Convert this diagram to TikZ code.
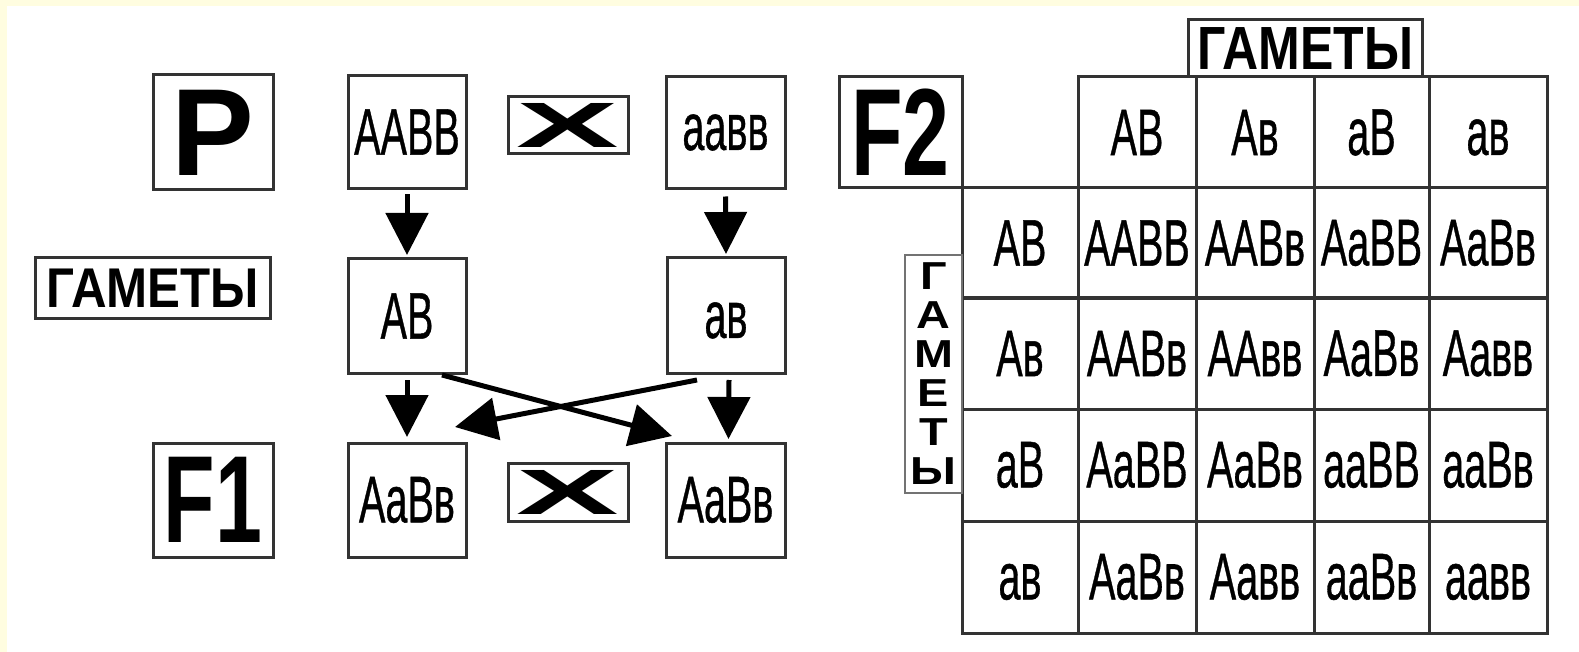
\documentclass[tikz,border=0pt]{standalone}
\usepackage{fontspec}
\setmainfont{Liberation Sans}
\newfontfamily\genfont{Liberation Sans}[FakeBold=0.8]
\usetikzlibrary{arrows.meta,calc}
\definecolor{bgyellow}{HTML}{FFFDE0}
\definecolor{boxline}{HTML}{333333}
\newcommand{\gen}[1]{\scalebox{0.6}[1]{\genfont\fontsize{66}{66}\selectfont #1\vphantom{A}}}
\newcommand{\genl}[1]{\scalebox{0.6}[1]{\genfont\fontsize{66}{66}\selectfont #1}}
\newcommand{\biglbl}[2]{\scalebox{#1}[1]{\fontsize{124}{124}\selectfont\bfseries #2}}
\newcommand{\vl}[1]{\scalebox{1.2}[1]{#1}}
\newcommand{\crossx}{\scalebox{2.4}[1]{\fontsize{64}{64}\selectfont\bfseries X}}
\newcommand{\cellnode}[6]{%
  \node[cellbox, minimum width={(#4-#2)*1pt}, minimum height={(#5-#3)*1pt}] (#1) at ({(#2+#4)/2},{(#3+#5)/2}) {\gen{#6}};}
\begin{document}
\begin{tikzpicture}[x=1pt,y=-1pt,
  box/.style={draw=boxline, line width=3pt, inner sep=0pt, outer sep=0pt},
  cellbox/.style={draw=boxline, line width=3pt, inner sep=0pt, outer sep=0pt},
  arr/.style={line width=5pt, -{Triangle[width=42pt,length=42pt]}}]
\useasboundingbox (0,0) rectangle (1579,652);
\fill[white] (0,0) rectangle (1579,652);
\fill[bgyellow] (0,0) rectangle (1579,6);
\fill[bgyellow] (0,0) rectangle (7,652);

% left scheme
\node[box, minimum width=120pt, minimum height=115pt] (p) at (213,132.5) {\biglbl{1}{P}};
\node[box, minimum width=118pt, minimum height=113pt] (aabb) at (407,132) {\gen{AABB}};
\node[box, minimum width=120pt, minimum height=57pt] (xtop) at (568,125.5) {\crossx};
\node[box, minimum width=119pt, minimum height=112pt] (aavv) at (725.5,132.5) {\genl{aaвв}};

\node[box, minimum width=235pt, minimum height=60pt] (gamL) at (152.5,288) {\scalebox{0.88}[1]{\fontsize{56}{56}\selectfont\bfseries ГАМЕТЫ}};
\node[box, minimum width=118pt, minimum height=114pt] (ab) at (407,316) {\gen{AB}};
\node[box, minimum width=118pt, minimum height=115pt] (av) at (726,315.5) {\gen{aв}};

\node[box, minimum width=120pt, minimum height=114pt] (f1) at (213,500) {\biglbl{0.68}{F1}};
\node[box, minimum width=118pt, minimum height=114pt] (aabvL) at (407,500) {\gen{AaBв}};
\node[box, minimum width=120pt, minimum height=58pt] (xbot) at (568,492) {\crossx};
\node[box, minimum width=119pt, minimum height=114pt] (aabvR) at (725.5,500) {\gen{AaBв}};

\draw[arr] ([yshift=-6pt]aabb.south) -- ([yshift=4pt]ab.north);
\draw[arr] ([yshift=-8pt]aavv.south) -- ([yshift=4pt]av.north);
\draw[arr] ([yshift=-7pt]ab.south) -- ([yshift=6pt]aabvL.north);
\draw[arr] ([xshift=3pt,yshift=-7pt]av.south) -- ([xshift=3pt,yshift=4pt]aabvR.north);
\draw[arr] ([xshift=-24pt,yshift=-2pt]ab.south east) -- ([xshift=6pt,yshift=7pt]aabvR.north west);
\draw[arr] ([xshift=30pt,yshift=-7pt]av.south west) -- ([xshift=-11pt,yshift=16pt]aabvL.north east);

% Punnett grid
\cellnode{h1}{1078}{77}{1196}{188}{AB}
\cellnode{h2}{1196}{77}{1314}{188}{Aв}
\cellnode{h3}{1314}{77}{1429}{188}{aB}
\cellnode{h4}{1429}{77}{1547}{188}{aв}
\cellnode{r1}{962}{188}{1078}{298}{AB}
\cellnode{r2}{962}{298}{1078}{409}{Aв}
\cellnode{r3}{962}{409}{1078}{521}{aB}
\cellnode{r4}{962}{521}{1078}{633}{aв}
\cellnode{c11}{1078}{188}{1196}{298}{AABB}
\cellnode{c12}{1196}{188}{1314}{298}{AABв}
\cellnode{c13}{1314}{188}{1429}{298}{AaBB}
\cellnode{c14}{1429}{188}{1547}{298}{AaBв}
\cellnode{c21}{1078}{298}{1196}{409}{AABв}
\cellnode{c22}{1196}{298}{1314}{409}{AAвв}
\cellnode{c23}{1314}{298}{1429}{409}{AaBв}
\cellnode{c24}{1429}{298}{1547}{409}{Aaвв}
\cellnode{c31}{1078}{409}{1196}{521}{AaBB}
\cellnode{c32}{1196}{409}{1314}{521}{AaBв}
\cellnode{c33}{1314}{409}{1429}{521}{aaBB}
\cellnode{c34}{1429}{409}{1547}{521}{aaBв}
\cellnode{c41}{1078}{521}{1196}{633}{AaBв}
\cellnode{c42}{1196}{521}{1314}{633}{Aaвв}
\cellnode{c43}{1314}{521}{1429}{633}{aaBв}
\cellnode{c44}{1429}{521}{1547}{633}{aaвв}

\node[box, minimum width=123pt, minimum height=111pt] (f2) at (900.5,132.5) {\biglbl{0.68}{F2}};
\node[box, fill=white, minimum width=234pt, minimum height=57pt] (gamT) at (1305,48.5) {\scalebox{0.82}[1]{\fontsize{61}{61}\selectfont\bfseries ГАМЕТЫ}};
\node[draw=black!55, line width=1.5pt, inner sep=0pt, minimum width=57pt, minimum height=238pt, align=center,
  font=\fontsize{39}{39}\selectfont\bfseries] (gamV) at (933.5,374)
  {\vl{Г}\\\vl{А}\\\vl{М}\\\vl{Е}\\\vl{Т}\\\vl{Ы}};
\end{tikzpicture}
\end{document}
